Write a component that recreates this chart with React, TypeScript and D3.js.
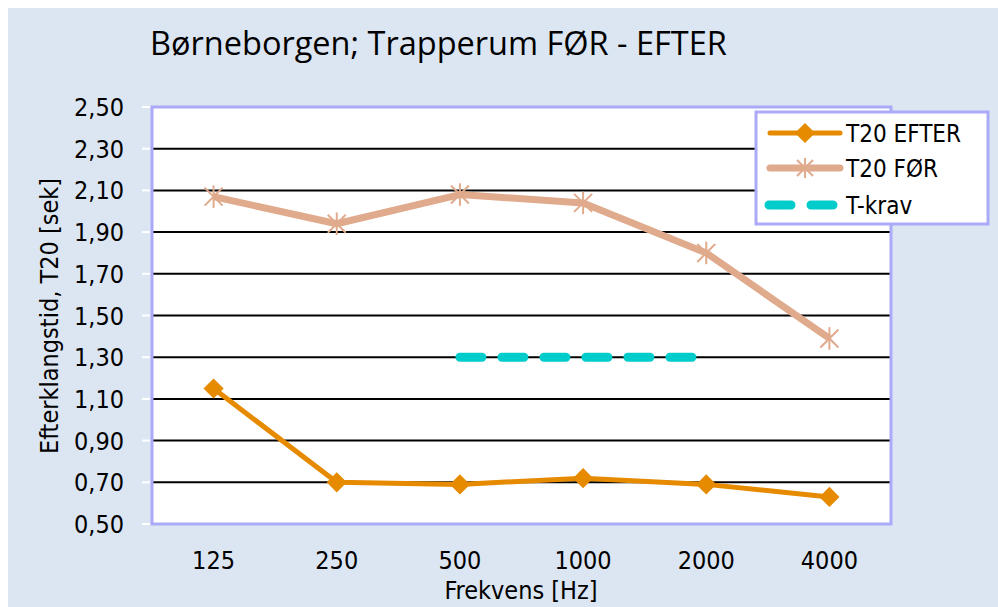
import React from "react";
import * as d3 from "d3";

const frequencies = ["125", "250", "500", "1000", "2000", "4000"];
const t20Efter = [1.15, 0.7, 0.69, 0.72, 0.69, 0.63];
const t20For = [2.07, 1.94, 2.08, 2.04, 1.8, 1.39];
const kravFreqs = ["500", "1000", "2000"];
const kravValues = [1.3, 1.3, 1.3];
const yTicks = [0.5, 0.7, 0.9, 1.1, 1.3, 1.5, 1.7, 1.9, 2.1, 2.3, 2.5];

const W = 998;
const H = 607;
const plot = { left: 152, top: 107, right: 891, bottom: 524 };

const efterColor = "#E68A00";
const forColor = "#E0AA8C";
const kravColor = "#00CCCC";
const frameColor = "#AAAAF8";
const bg = "#DCE6F2";

const fmt = (v: number) => v.toFixed(2).replace(".", ",");

const App = () => {
  const x = d3
    .scalePoint<string>()
    .domain(frequencies)
    .range([plot.left, plot.right])
    .padding(0.5);
  const y = d3.scaleLinear().domain([0.5, 2.5]).range([plot.bottom, plot.top]);

  const line = d3
    .line<[string, number]>()
    .x((d) => x(d[0]) as number)
    .y((d) => y(d[1]));

  const efterPts: [string, number][] = frequencies.map((f, i) => [f, t20Efter[i]]);
  const forPts: [string, number][] = frequencies.map((f, i) => [f, t20For[i]]);
  const kravPts: [string, number][] = kravFreqs.map((f, i) => [f, kravValues[i]]);

  const diamond = d3.symbol(d3.symbolDiamond2, 260)();

  const star = (cx: number, cy: number, r: number, key: string) => (
    <g key={key} stroke={forColor} strokeWidth={2}>
      <line x1={cx - r} y1={cy - r} x2={cx + r} y2={cy + r} />
      <line x1={cx - r} y1={cy + r} x2={cx + r} y2={cy - r} />
      <line x1={cx} y1={cy - r * 1.25} x2={cx} y2={cy + r * 1.25} />
    </g>
  );

  const tickFont = "'DejaVu Sans Condensed', 'DejaVu Sans', sans-serif";
  const legendX = 770;
  const legendRows = [133, 168, 205];

  return (
    <svg
      width={W}
      height={H}
      style={{ position: "absolute", left: 0, top: 0 }}
      fontFamily={tickFont}
    >
      <rect x={0} y={0} width={W} height={H} fill="#ffffff" />
      <rect x={8} y={8} width={W - 8} height={H - 8} fill={bg} />

      <text x={150} y={55} fontSize={32.5} fontFamily="'Open Sans', sans-serif" fill="#000">
        Børneborgen; Trapperum FØR - EFTER
      </text>

      <rect
        x={plot.left}
        y={plot.top}
        width={plot.right - plot.left}
        height={plot.bottom - plot.top}
        fill="#ffffff"
      />

      {yTicks.slice(1, -1).map((t) => (
        <line
          key={"g" + t}
          x1={plot.left}
          x2={plot.right}
          y1={y(t)}
          y2={y(t)}
          stroke="#000"
          strokeWidth={2}
        />
      ))}

      <rect
        x={plot.left}
        y={plot.top}
        width={plot.right - plot.left}
        height={plot.bottom - plot.top}
        fill="none"
        stroke={frameColor}
        strokeWidth={3}
      />

      {yTicks.map((t) => (
        <g key={"t" + t}>
          <line x1={plot.left - 10} x2={plot.left - 2} y1={y(t)} y2={y(t)} stroke="#fff" strokeWidth={2} />
          <text x={124} y={y(t)} dy="0.36em" textAnchor="end" fontSize={25} fill="#000">
            {fmt(t)}
          </text>
        </g>
      ))}

      {frequencies.map((f) => (
        <text key={"x" + f} x={x(f)} y={569} textAnchor="middle" fontSize={25} fill="#000">
          {f}
        </text>
      ))}

      <text x={521} y={599} textAnchor="middle" fontSize={25} fill="#000">
        Frekvens [Hz]
      </text>
      <text
        transform={`translate(58, 316) rotate(-90)`}
        textAnchor="middle"
        fontSize={25}
        fill="#000"
      >
        Efterklangstid, T20 [sek]
      </text>

      <path
        d={line(kravPts) || ""}
        fill="none"
        stroke={kravColor}
        strokeWidth={9}
        strokeLinecap="round"
        strokeDasharray="22 20"
      />

      <path d={line(forPts) || ""} fill="none" stroke={forColor} strokeWidth={7} strokeLinejoin="round" />
      {forPts.map((d) => star(x(d[0]) as number, y(d[1]), 9, "s" + d[0]))}

      <path d={line(efterPts) || ""} fill="none" stroke={efterColor} strokeWidth={5} strokeLinejoin="round" />
      {efterPts.map((d) => (
        <path
          key={"d" + d[0]}
          d={diamond || ""}
          transform={`translate(${x(d[0])},${y(d[1])})`}
          fill={efterColor}
        />
      ))}

      <rect x={756} y={112} width={232} height={112} fill="#ffffff" stroke={frameColor} strokeWidth={3} />
      <line x1={legendX} x2={legendX + 70} y1={legendRows[0]} y2={legendRows[0]} stroke={efterColor} strokeWidth={5} strokeLinecap="round" />
      <path d={diamond || ""} transform={`translate(${legendX + 35},${legendRows[0]})`} fill={efterColor} />
      <line x1={legendX} x2={legendX + 70} y1={legendRows[1]} y2={legendRows[1]} stroke={forColor} strokeWidth={7} strokeLinecap="round" />
      {star(legendX + 35, legendRows[1], 8, "ls")}
      <line x1={legendX - 1} x2={legendX + 71} y1={legendRows[2]} y2={legendRows[2]} stroke={kravColor} strokeWidth={9} strokeLinecap="round" strokeDasharray="22 20" />
      {["T20 EFTER", "T20 FØR", "T-krav"].map((s, i) => (
        <text key={s} x={846} y={legendRows[i]} dy="0.36em" fontSize={24} fill="#000" fontFamily="'DejaVu Sans Condensed', 'DejaVu Sans', sans-serif">
          {s}
        </text>
      ))}
    </svg>
  );
};

export default App;
